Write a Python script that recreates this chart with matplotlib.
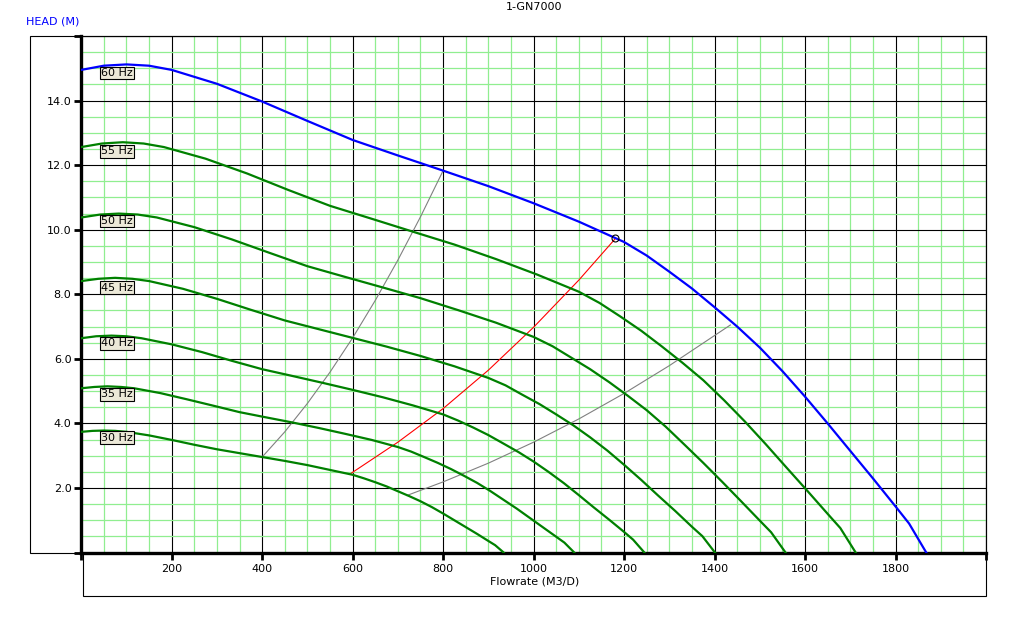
import numpy as np
from matplotlib import pyplot as plt
from matplotlib.ticker import MultipleLocator, FuncFormatter
from matplotlib.patches import Polygon

# pump curves (flowrate M3/D, head M)
q60 = [0, 50, 100, 150, 200, 300, 400, 500, 600, 700, 800, 900, 1000, 1100, 1200, 1250,
       1300, 1350, 1400, 1450, 1500, 1550, 1600, 1650, 1700, 1750, 1800, 1830, 1868]
h60 = [14.95, 15.08, 15.12, 15.08, 14.95, 14.52, 13.97, 13.37, 12.78, 12.30, 11.83, 11.35,
       10.82, 10.25, 9.62, 9.20, 8.70, 8.18, 7.60, 7.00, 6.35, 5.62, 4.83, 4.00, 3.15, 2.30,
       1.43, 0.90, 0]

q55 = [0, 46, 92, 138, 183, 275, 367, 458, 550, 642, 733, 825, 917, 1008, 1100, 1146,
       1192, 1238, 1283, 1329, 1375, 1421, 1467, 1513, 1558, 1604, 1650, 1678, 1712]
h55 = [12.56, 12.67, 12.71, 12.67, 12.56, 12.20, 11.74, 11.23, 10.74, 10.34, 9.94, 9.54,
       9.09, 8.61, 8.08, 7.73, 7.31, 6.87, 6.39, 5.88, 5.34, 4.72, 4.06, 3.36, 2.65, 1.93,
       1.20, 0.76, 0]

q50 = [0, 42, 83, 125, 167, 250, 333, 417, 500, 583, 667, 750, 833, 917, 1000, 1042,
       1083, 1125, 1167, 1208, 1250, 1292, 1333, 1375, 1417, 1458, 1500, 1525, 1557]
h50 = [10.38, 10.47, 10.50, 10.47, 10.38, 10.08, 9.70, 9.28, 8.87, 8.54, 8.21, 7.88,
       7.51, 7.12, 6.68, 6.39, 6.04, 5.68, 5.28, 4.86, 4.41, 3.90, 3.35, 2.78, 2.19, 1.60,
       0.99, 0.63, 0]

q45 = [0, 38, 75, 113, 150, 225, 300, 375, 450, 525, 600, 675, 750, 825, 900, 938,
       975, 1013, 1050, 1088, 1125, 1163, 1200, 1238, 1275, 1313, 1350, 1373, 1401]
h45 = [8.41, 8.48, 8.51, 8.48, 8.41, 8.17, 7.86, 7.52, 7.19, 6.92, 6.65, 6.38,
       6.09, 5.77, 5.41, 5.18, 4.89, 4.60, 4.28, 3.94, 3.57, 3.16, 2.72, 2.25, 1.77, 1.29,
       0.80, 0.51, 0]

q40 = [0, 33, 67, 100, 133, 200, 267, 333, 400, 467, 533, 600, 667, 733, 800, 833,
       867, 900, 933, 967, 1000, 1033, 1067, 1100, 1133, 1167, 1200, 1220, 1245]
h40 = [6.64, 6.70, 6.72, 6.70, 6.64, 6.45, 6.21, 5.94, 5.68, 5.47, 5.26, 5.04,
       4.81, 4.56, 4.28, 4.09, 3.87, 3.64, 3.38, 3.11, 2.82, 2.50, 2.15, 1.78, 1.40, 1.02,
       0.64, 0.40, 0]

q35 = [0, 29, 58, 88, 117, 175, 233, 292, 350, 408, 467, 525, 583, 642, 700, 729,
       758, 788, 817, 846, 875, 904, 933, 963, 992, 1021, 1050, 1068, 1090]
h35 = [5.09, 5.13, 5.15, 5.13, 5.09, 4.94, 4.75, 4.55, 4.35, 4.19, 4.03, 3.86,
       3.68, 3.49, 3.27, 3.13, 2.96, 2.78, 2.59, 2.38, 2.16, 1.91, 1.64, 1.36, 1.07, 0.78,
       0.49, 0.31, 0]

q30 = [0, 25, 50, 75, 100, 150, 200, 250, 300, 350, 400, 450, 500, 550, 600, 625,
       650, 675, 700, 725, 750, 775, 800, 825, 850, 875, 900, 915, 934]
h30 = [3.74, 3.77, 3.78, 3.77, 3.74, 3.63, 3.49, 3.34, 3.20, 3.08, 2.96, 2.84,
       2.71, 2.56, 2.41, 2.30, 2.18, 2.05, 1.90, 1.75, 1.59, 1.41, 1.21, 1.00, 0.79, 0.58,
       0.36, 0.23, 0]

green_curves = [(q55, h55), (q50, h50), (q45, h45), (q40, h40), (q35, h35), (q30, h30)]

# iso-efficiency lines
q_gray1 = [400, 450, 500, 550, 600, 650, 700, 750, 800]
h_gray1 = [2.96, 3.74, 4.62, 5.59, 6.65, 7.81, 9.06, 10.40, 11.83]
q_gray2 = [720, 800, 900, 1000, 1100, 1200, 1300, 1435]
h_gray2 = [1.77, 2.19, 2.77, 3.42, 4.14, 4.93, 5.79, 7.05]
q_red = [596, 700, 800, 900, 1000, 1100, 1181]
h_red = [2.45, 3.42, 4.46, 5.65, 6.98, 8.44, 9.73]
op_point = (1181, 9.73)

freq_labels = ['60 Hz', '55 Hz', '50 Hz', '45 Hz', '40 Hz', '35 Hz', '30 Hz']
label_q = 79
label_h = [14.85, 12.43, 10.27, 8.21, 6.48, 4.90, 3.56]

W, H = 1015, 617
fig = plt.figure(figsize=(W / 100, H / 100), dpi=100)
ax = fig.add_axes([81.2 / W, 1 - 552.6 / H, (986 - 81.2) / W, (552.6 - 36) / H])

# outer frame (L-shaped box round the plot)
frame = [(30, 36), (986, 36), (986, 596), (83, 596), (83, 553), (30, 553)]
frame = [(x / W, 1 - y / H) for x, y in frame]
fig.patches.append(Polygon(frame, closed=True, fill=False, edgecolor='black',
                           linewidth=0.8, transform=fig.transFigure))

ax.set_xlim(0, 2000)
ax.set_ylim(0, 16)

ax.xaxis.set_major_locator(MultipleLocator(200))
ax.xaxis.set_minor_locator(MultipleLocator(50))
ax.yaxis.set_major_locator(MultipleLocator(2))
ax.yaxis.set_minor_locator(MultipleLocator(0.5))
ax.xaxis.set_major_formatter(FuncFormatter(lambda v, p: '' if v <= 0 or v >= 2000 else '%d' % v))
ax.yaxis.set_major_formatter(FuncFormatter(lambda v, p: '' if v <= 0 or v >= 16 else '%.1f' % v))

ax.grid(True, which='minor', color='#90EE90', linewidth=0.9, zorder=0)
ax.grid(True, which='major', color='black', linewidth=0.8, zorder=0.5)
ax.set_axisbelow(True)

ax.tick_params(which='major', length=5, width=2, color='black', labelsize=8, pad=2)
ax.tick_params(axis='x', which='major', pad=3)
ax.tick_params(which='minor', length=0)
for s in ['left', 'bottom']:
    ax.spines[s].set_linewidth(2.4)
for s in ['top', 'right']:
    ax.spines[s].set_linewidth(0.8)

ax.plot(q_gray1, h_gray1, color='#808080', linewidth=0.8, zorder=2)
ax.plot(q_gray2, h_gray2, color='#808080', linewidth=0.8, zorder=2)
ax.plot(q_red, h_red, color='red', linewidth=0.8, zorder=2)

for q, h in green_curves:
    ax.plot(q, h, color='#008000', linewidth=1.6, zorder=3)
ax.plot(q60, h60, color='#0000FF', linewidth=1.6, zorder=3)

ax.plot(*op_point, marker='o', markersize=5, markerfacecolor='none',
        markeredgecolor='black', markeredgewidth=0.8, zorder=4)

for txt, y in zip(freq_labels, label_h):
    ax.text(label_q, y, txt, ha='center', va='center', fontsize=8, zorder=5,
            bbox=dict(boxstyle='square,pad=0.12', facecolor='#ECE9D8',
                      edgecolor='black', linewidth=0.8))

fig.text(534.5 / W, 1 - 7 / H, '1-GN7000', ha='center', va='center', fontsize=8)
fig.text(26.5 / W, 1 - 21 / H, 'HEAD (M)', ha='left', va='center', fontsize=8, color='#0000FF')
fig.text(534.5 / W, 1 - 581 / H, 'Flowrate (M3/D)', ha='center', va='center', fontsize=8)

fig.savefig('out.png', dpi=100)
